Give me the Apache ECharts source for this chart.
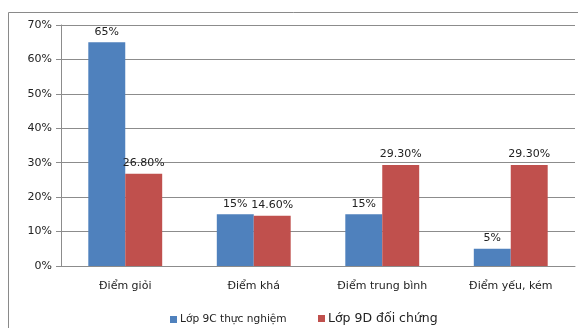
<!DOCTYPE html>
<html>
<head>
<meta charset="utf-8">
<script src="https://cdn.jsdelivr.net/npm/echarts@6/dist/echarts.min.js"></script>
<style>
  html, body { margin: 0; padding: 0; background: #fff; }
  #chart { width: 578px; height: 328px; }
</style>
</head>
<body>
<div id="chart"></div>
<script>
// Score distribution for the experimental and control classes
const categories = ['Điểm giỏi', 'Điểm khá', 'Điểm trung bình', 'Điểm yếu, kém'];
const classC = [65, 15, 15, 5];          // Lớp 9C thực nghiệm
const classD = [26.8, 14.6, 29.3, 29.3]; // Lớp 9D đối chứng
const classCLabels = ['65%', '15%', '15%', '5%'];
const classDLabels = ['26.80%', '14.60%', '29.30%', '29.30%'];
const yTicks = [0, 10, 20, 30, 40, 50, 60, 70];

const nameC = 'Lớp 9C thực nghiệm';
const nameD = 'Lớp 9D đối chứng';
const font = 'DejaVu Sans';
const gray = '#8c8c8c';

const chart = echarts.init(document.getElementById('chart'), null, { renderer: 'canvas' });

chart.setOption({
  animation: false,
  textStyle: { fontFamily: font },
  graphic: [{
    type: 'rect',
    shape: { x: 8.5, y: 12.5, width: 600, height: 400 },
    style: { fill: 'none', stroke: '#8a8a8a', lineWidth: 1 },
    silent: true, z: -1
  }],
  grid: { left: 61, top: 25, width: 514, height: 241 },
  legend: [{
    left: 165, top: 309,
    itemWidth: 7, itemHeight: 7, icon: 'rect',
    data: [nameC],
    textStyle: { fontFamily: font, fontSize: 10.6, color: '#222', padding: [0, 0, 0, -2] }
  }, {
    left: 313, top: 307,
    itemWidth: 7, itemHeight: 7, icon: 'rect',
    data: [nameD],
    textStyle: { fontFamily: font, fontSize: 12.5, color: '#222', padding: [0, 0, 0, -2] }
  }],
  xAxis: {
    type: 'category',
    data: categories,
    axisLine: { lineStyle: { color: gray } },
    axisTick: { length: 5, lineStyle: { color: gray } },
    axisLabel: { fontFamily: font, fontSize: 11, color: '#222', margin: 15 }
  },
  yAxis: {
    type: 'value',
    min: yTicks[0],
    max: yTicks[yTicks.length - 1],
    interval: 10,
    axisLine: { show: true, lineStyle: { color: gray } },
    axisTick: { show: true, length: 5, lineStyle: { color: gray } },
    splitLine: { lineStyle: { color: gray } },
    axisLabel: { fontFamily: font, fontSize: 11, color: '#222', margin: 9, formatter: v => v + '%' }
  },
  series: [{
    name: nameC,
    type: 'bar',
    data: classC,
    barGap: '0%',
    barCategoryGap: '42.5%',
    itemStyle: { color: '#4F81BD' },
    label: {
      show: true, position: 'top', distance: 5,
      fontFamily: font, fontSize: 11, color: '#222',
      formatter: p => classCLabels[p.dataIndex]
    }
  }, {
    name: nameD,
    type: 'bar',
    data: classD,
    barGap: '0%',
    barCategoryGap: '42.5%',
    itemStyle: { color: '#C0504D' },
    label: {
      show: true, position: 'top', distance: 5,
      fontFamily: font, fontSize: 11, color: '#222',
      formatter: p => classDLabels[p.dataIndex]
    }
  }]
});
</script>
</body>
</html>
